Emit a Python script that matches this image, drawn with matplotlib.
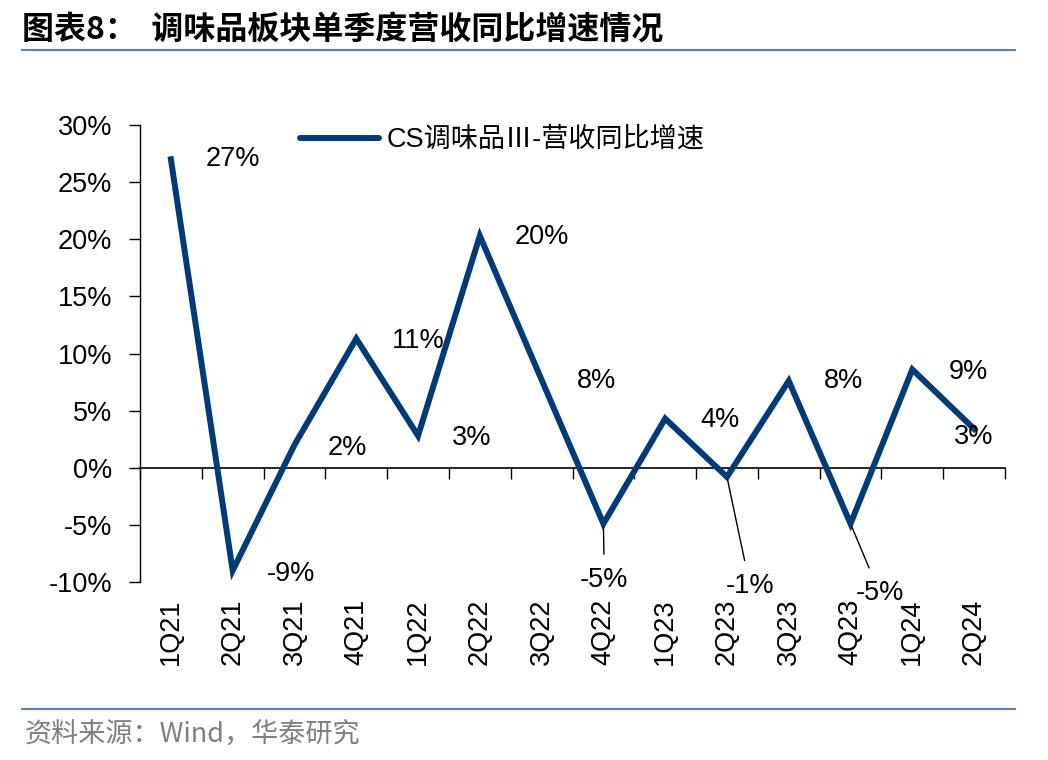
import numpy as np
import matplotlib
matplotlib.use("Agg")
import matplotlib.pyplot as plt
from matplotlib.lines import Line2D

plt.rcParams['font.family'] = ['Liberation Sans', 'Noto Sans CJK SC', 'DejaVu Sans']

# data
quarters = ['1Q21', '2Q21', '3Q21', '4Q21', '1Q22', '2Q22', '3Q22',
            '4Q22', '1Q23', '2Q23', '3Q23', '4Q23', '1Q24', '2Q24']
growth = [27.0, -9.0, 2.0, 11.3, 2.8, 20.3, 7.7, -4.9, 4.3, -0.8, 7.6, -4.9, 8.6, 3.4]
series_name = 'CS调味品Ⅲ-营收同比增速'

# label offsets in pixels (dx, dy) and whether a leader line is drawn
label_offsets = [(62, 0), (58, -3), (53, -3), (62, -2), (54, -2), (62, -1), (55, -1),
                 (1, -56), (55, -1), (23, -109), (55, 0), (29, -69), (56, -3), (0, -8)]
leaders = [False, False, False, False, False, False, False,
           True, False, True, False, True, False, False]

navy = '#003a78'
fsize = 19.5

fig = plt.figure(figsize=(10.48, 7.6), dpi=100)
ax = fig.add_axes([140 / 1048, 1 - 582 / 760, (1005 - 140) / 1048, (582 - 125) / 760])

x = np.arange(len(quarters))
ax.plot(x, growth, color=navy, lw=4.3, solid_joinstyle='miter', zorder=3)

ax.set_xlim(-0.5, len(quarters) - 0.5)
ax.set_ylim(-10, 30)
ax.set_yticks(np.arange(-10, 31, 5))
ax.set_yticklabels(['%d%%' % v for v in np.arange(-10, 31, 5)], fontsize=fsize)
ax.tick_params(axis='y', direction='out', length=8, width=1, pad=12)

for s in ['top', 'right']:
    ax.spines[s].set_visible(False)
ax.spines['left'].set_linewidth(1)
ax.spines['bottom'].set_position(('data', 0))
ax.spines['bottom'].set_linewidth(1.2)
ax.set_xticks(np.arange(-0.5, len(quarters), 1))
ax.set_xticklabels([])
ax.tick_params(axis='x', direction='out', length=8, width=1)

sec = ax.secondary_xaxis(0.0)
sec.set_xticks(x, labels=quarters, rotation=90, fontsize=fsize)
sec.tick_params(length=0, pad=12)
sec.spines['bottom'].set_visible(False)

for i, v in enumerate(growth):
    dx, dy = label_offsets[i]
    txt = '%d%%' % round(v)
    if leaders[i]:
        ax.annotate(txt, xy=(i, v), xytext=(dx, dy), textcoords='offset pixels',
                    ha='center', va='center', fontsize=fsize,
                    arrowprops=dict(arrowstyle='-', color='black', lw=1,
                                    shrinkA=7, shrinkB=2))
    else:
        ax.annotate(txt, xy=(i, v), xytext=(dx, dy), textcoords='offset pixels',
                    ha='center', va='center', fontsize=fsize)

handle = Line2D([], [], color=navy, lw=4.3, solid_capstyle='round')
fig.legend([handle], [series_name], loc='center left',
           bbox_to_anchor=(300 / 1048, 1 - 140 / 760), frameon=False,
           fontsize=fsize, handlelength=2.9, handletextpad=0.3,
           borderpad=0, borderaxespad=0)

# title, rules and source
fig.text(22 / 1048, 1 - 30 / 760, '图表8：  调味品板块单季度营收同比增速情况',
         fontsize=23, fontweight='bold', va='center', ha='left',
         family=['Noto Sans CJK SC', 'DejaVu Sans'])
fig.add_artist(Line2D([22 / 1048, 1015 / 1048], [1 - 50 / 760, 1 - 50 / 760],
                      color='#5b82b5', lw=1.5))
fig.add_artist(Line2D([22 / 1048, 1015 / 1048], [1 - 709 / 760, 1 - 709 / 760],
                      color='#5b82b5', lw=1.5))
fig.text(25 / 1048, 1 - 735 / 760, '资料来源：Wind，华泰研究', fontsize=19.5,
         color='#7f7f7f', va='center', ha='left',
         family=['Noto Sans CJK SC', 'DejaVu Sans'])

fig.savefig('out.png', dpi=100)
